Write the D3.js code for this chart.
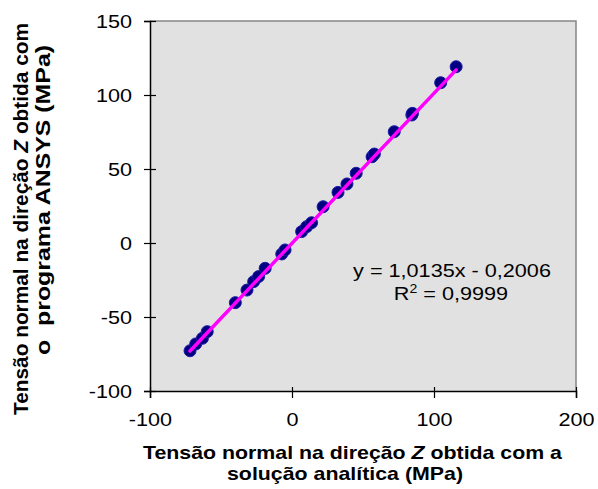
<!DOCTYPE html>
<html>
<head>
<meta charset="utf-8">
<script src="https://cdn.jsdelivr.net/npm/d3@7"></script>
<style>
  body { margin: 0; background: #fff; }
  text { font-family: Arial, "Liberation Sans", sans-serif; }
</style>
</head>
<body>
<script>
// analytical solution (x) vs ANSYS (y), MPa
let analitica = [-71.8, -67.8, -63.1, -59.7, -39.9, -31.7, -27.0, -23.5, -18.9, -7.2, -4.9,
  6.8, 10.3, 13.8, 21.9, 32.4, 38.7, 45.2, 56.4, 58.0, 72.0, 84.4, 84.8, 104.7, 115.6];
let ansys = [-72.8, -68.2, -64.4, -59.9, -40.3, -31.8, -26.1, -22.7, -17.1, -7.4, -4.7,
  7.7, 11.0, 13.7, 24.5, 34.2, 39.9, 47.1, 58.3, 60.1, 75.2, 86.5, 87.6, 108.3, 119.1];
let xTicks = [-100, 0, 100, 200];
let yTicks = [-100, -50, 0, 50, 100, 150];
let slope = 1.0135;
let intercept = -0.2006;
let eqLabel = "y = 1,0135x - 0,2006";
let r2Label = "0,9999";

let canvasW = 598;
let canvasH = 489;
let plotL = 150, plotR = 576, plotT = 21, plotB = 391;
let sx = 1.17; // the original is a bit wider than tall
let fs = 18.5;

let svg = d3.select("body").append("svg")
  .attr("width", canvasW)
  .attr("height", canvasH);

let x = d3.scaleLinear().domain([-100, 200]).range([plotL, plotR]);
let y = d3.scaleLinear().domain([-100, 150]).range([plotB, plotT]);

// plot area
svg.append("rect")
  .attr("x", plotL).attr("y", plotT)
  .attr("width", plotR - plotL).attr("height", plotB - plotT)
  .attr("fill", "#e1e1e1");
svg.append("path")
  .attr("d", `M${plotL},${plotT}H${plotR}V${plotB}`)
  .attr("fill", "none").attr("stroke", "#868686").attr("stroke-width", 1.5);

// axes
let xAxis = svg.append("g")
  .attr("transform", `translate(0,${plotB})`)
  .call(d3.axisBottom(x).tickValues(xTicks).tickSize(7).tickFormat(d => String(d)));
xAxis.selectAll(".tick line").attr("y1", -4);
xAxis.selectAll("text")
  .attr("y", 35).attr("dy", 0)
  .attr("transform", `scale(${sx},1)`);

let yAxis = svg.append("g")
  .attr("transform", `translate(${plotL},0)`)
  .call(d3.axisLeft(y).tickValues(yTicks).tickSize(6).tickFormat(d => String(d)));
yAxis.selectAll(".tick line").attr("x1", 6).attr("x2", -6);
yAxis.selectAll("text")
  .attr("x", -18 / sx).attr("dy", "0.35em")
  .attr("transform", `scale(${sx},1)`);

svg.selectAll(".domain").attr("stroke", "#000").attr("stroke-width", 1.5);
svg.selectAll(".tick line").attr("stroke", "#000").attr("stroke-width", 1.2);
svg.selectAll(".tick text")
  .attr("font-family", "Arial, 'Liberation Sans', sans-serif")
  .attr("font-size", fs).attr("fill", "#000");

// points
let pts = analitica.map((v, i) => ({ a: v, b: ansys[i] }));
svg.selectAll("circle")
  .data(pts)
  .join("circle")
  .attr("cx", d => x(d.a))
  .attr("cy", d => y(d.b))
  .attr("r", 6)
  .attr("fill", "#000080")
  .attr("stroke", "#1a1aa8")
  .attr("stroke-width", 1);

// trend line
let xMin = d3.min(analitica), xMax = d3.max(analitica);
svg.append("line")
  .attr("x1", x(xMin)).attr("y1", y(slope * xMin + intercept))
  .attr("x2", x(xMax)).attr("y2", y(slope * xMax + intercept))
  .attr("stroke", "#ff00ff").attr("stroke-width", 3.5).attr("stroke-linecap", "round");

// equation
svg.append("text")
  .attr("transform", `translate(452,277) scale(${sx},1)`)
  .attr("text-anchor", "middle").attr("font-size", fs)
  .text(eqLabel);
let r2 = svg.append("text")
  .attr("transform", `translate(451,300) scale(${sx},1)`)
  .attr("text-anchor", "middle").attr("font-size", fs);
r2.append("tspan").text("R");
r2.append("tspan").attr("font-size", 12).attr("dy", -7).text("2");
r2.append("tspan").attr("dy", 7).text(" = " + r2Label);

// x axis title
let xt1 = svg.append("text")
  .attr("x", 352.5).attr("y", 459)
  .attr("text-anchor", "middle").attr("font-size", fs).attr("font-weight", "bold")
  .attr("textLength", 419).attr("lengthAdjust", "spacingAndGlyphs");
xt1.append("tspan").text("Tensão normal na direção ");
xt1.append("tspan").attr("font-style", "italic").text("Z");
xt1.append("tspan").text(" obtida com a");
svg.append("text")
  .attr("x", 345).attr("y", 480)
  .attr("text-anchor", "middle").attr("font-size", fs).attr("font-weight", "bold")
  .attr("textLength", 236).attr("lengthAdjust", "spacingAndGlyphs")
  .text("solução analítica (MPa)");

// y axis title
let yt1 = svg.append("text")
  .attr("transform", "translate(28,219) rotate(-90)")
  .attr("text-anchor", "middle").attr("font-size", 20).attr("font-weight", "bold")
  .attr("textLength", 392).attr("lengthAdjust", "spacingAndGlyphs");
yt1.append("tspan").text("Tensão normal na direção ");
yt1.append("tspan").attr("font-style", "italic").text("Z");
yt1.append("tspan").text(" obtida com");
svg.append("text")
  .attr("transform", "translate(50,200) rotate(-90)")
  .attr("text-anchor", "middle").attr("font-size", 20).attr("font-weight", "bold")
  .attr("xml:space", "preserve")
  .attr("textLength", 310).attr("lengthAdjust", "spacingAndGlyphs")
  .text("o  programa ANSYS (MPa)");
</script>
</body>
</html>
